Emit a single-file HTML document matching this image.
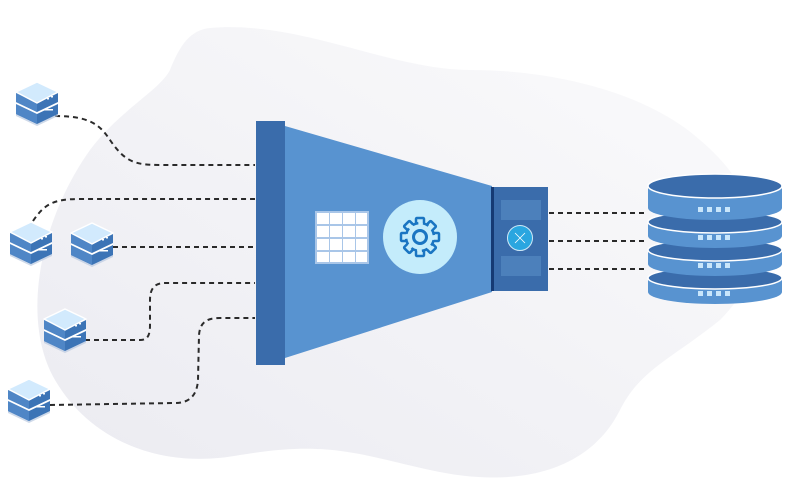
<!DOCTYPE html>
<html><head><meta charset="utf-8"><style>html,body{margin:0;padding:0;background:#fff}svg{display:block}</style></head><body>
<svg width="800" height="487" viewBox="0 0 800 487" xmlns="http://www.w3.org/2000/svg">
<defs>
<linearGradient id="bg" x1="0" y1="1" x2="1" y2="0"><stop offset="0" stop-color="#ebebf1"/><stop offset="1" stop-color="#fbfbfc"/></linearGradient>
<g id="srv">
<polygon points="0,29 21,39 42,29 42,34 21,44 0,34" fill="#b9c9e0" opacity="0.7"/>
<polygon points="0,21 21,31 42,21 42,32 21,42 0,32" fill="#3c74b6"/>
<polygon points="0,21 21,31 21,42 0,32" fill="#4f86c6"/>
<polygon points="0,11 21,21 42,11 42,22 21,32 0,22" fill="#fff"/>
<polygon points="0,11 21,21 42,11 42,20 21,30 0,20" fill="#3c74b6"/>
<polygon points="0,11 21,21 21,30 0,20" fill="#4f86c6"/>
<polygon points="21,0 42,10 21,21 0,10" fill="#d2eafd" stroke="#fff" stroke-width="1.5" stroke-linejoin="round"/>
<rect x="31" y="16" width="2" height="1.5" fill="#fff"/><rect x="35" y="14" width="2" height="1.5" fill="#fff"/>
<rect x="28" y="27" width="9" height="1.5" fill="#fff"/>
</g>
</defs>
<path d="M210,28 C300,20 390,70 470,70 C560,70 650,95 700,140 C760,190 780,260 720,320 C670,360 640,370 620,410 C590,470 520,490 430,470 C360,455 330,440 240,455 C160,470 90,440 55,380 C20,320 40,220 90,150 C120,110 160,90 170,70 C180,45 190,30 210,28 Z" fill="url(#bg)"/>
<g fill="none" stroke="#2a2a2a" stroke-width="2" stroke-dasharray="5,4">
<path d="M55,116 C90,116 100,125 110,140 C125,162 135,165 160,165 L255,165"/>
<path d="M33,221 C45,203 55,199 80,199 L255,199"/>
<path d="M113,247 L255,247"/>
<path d="M85,340 L140,340 C148,340 150,335 150,325 L150,300 C150,288 155,283 165,283 L255,283"/>
<path d="M50,405 L175,403 C190,403 197,395 198,380 L199,335 C200,322 207,318 220,318 L255,318"/>
<path d="M549,213 L648,213 M549,241 L648,241 M549,269 L648,269"/>
</g>
<use href="#srv" x="16" y="82"/>
<use href="#srv" x="10" y="222"/>
<use href="#srv" x="71" y="223"/>
<use href="#srv" x="44" y="309"/>
<use href="#srv" x="8" y="379"/>
<polygon points="285,126 492,186 492,292 285,358" fill="#5893d0"/>
<rect x="256" y="121" width="29" height="244" fill="#3a6cab"/>
<rect x="491" y="187" width="57" height="104" fill="#3a6cab"/>
<rect x="491" y="187" width="3" height="104" fill="#153a74"/>
<rect x="501" y="200" width="40" height="20" fill="#4c80bb"/>
<rect x="501" y="256" width="40" height="20" fill="#4c80bb"/>
<circle cx="520" cy="238" r="12.5" fill="#2aa6e0" stroke="#cfe9f7" stroke-width="1"/>
<g stroke="#fff" stroke-width="0.8" fill="none"><path d="M515,233 L518,236 M525,233 L522,236 M515,243 L518,240 M525,243 L522,240 M518,236 L522,240 M522,236 L518,240"/></g>
<rect x="315" y="211" width="54" height="53" fill="#a9c6e8"/>
<g fill="#fff">
<rect x="317" y="213" width="12" height="11"/><rect x="330" y="213" width="12" height="11"/><rect x="343" y="213" width="12" height="11"/><rect x="356" y="213" width="11" height="11"/>
<rect x="317" y="226" width="12" height="11"/><rect x="330" y="226" width="12" height="11"/><rect x="343" y="226" width="12" height="11"/><rect x="356" y="226" width="11" height="11"/>
<rect x="317" y="239" width="12" height="11"/><rect x="330" y="239" width="12" height="11"/><rect x="343" y="239" width="12" height="11"/><rect x="356" y="239" width="11" height="11"/>
<rect x="317" y="252" width="12" height="10"/><rect x="330" y="252" width="12" height="10"/><rect x="343" y="252" width="12" height="10"/><rect x="356" y="252" width="11" height="10"/>
</g>
<circle cx="420" cy="237" r="37" fill="#c4ecfb"/>
<g fill="#c4ecfb" stroke="#1a75c2" stroke-width="2.5">
<g transform="translate(420,237)">
<rect x="-4" y="-19" width="8" height="8" rx="1"/>
<rect x="-4" y="-19" width="8" height="8" rx="1" transform="rotate(45)"/>
<rect x="-4" y="-19" width="8" height="8" rx="1" transform="rotate(90)"/>
<rect x="-4" y="-19" width="8" height="8" rx="1" transform="rotate(135)"/>
<rect x="-4" y="-19" width="8" height="8" rx="1" transform="rotate(180)"/>
<rect x="-4" y="-19" width="8" height="8" rx="1" transform="rotate(225)"/>
<rect x="-4" y="-19" width="8" height="8" rx="1" transform="rotate(270)"/>
<rect x="-4" y="-19" width="8" height="8" rx="1" transform="rotate(315)"/>
</g>
</g>
<circle cx="420" cy="237" r="14" fill="#c4ecfb"/>
<path d="M420,223 A14,14 0 1 1 419.99,223" fill="none" stroke="#1a75c2" stroke-width="2.5" stroke-dasharray="6,5" stroke-dashoffset="-3"/>
<circle cx="420" cy="237" r="6.5" fill="none" stroke="#1a75c2" stroke-width="3"/>
<g>
<path d="M648,278 L648,292 A67,12 0 0 0 782,292 L782,278 Z" fill="#5893d0"/>
<ellipse cx="715" cy="278" rx="67" ry="11" fill="#3a6cab" stroke="#fff" stroke-width="1.5"/>
<path d="M648,250 L648,264 A67,12 0 0 0 782,264 L782,250 Z" fill="#5893d0"/>
<ellipse cx="715" cy="250" rx="67" ry="11" fill="#3a6cab" stroke="#fff" stroke-width="1.5"/>
<path d="M648,222 L648,236 A67,12 0 0 0 782,236 L782,222 Z" fill="#5893d0"/>
<ellipse cx="715" cy="222" rx="67" ry="11" fill="#3a6cab" stroke="#fff" stroke-width="1.5"/>
<path d="M648,186 L648,208 A67,12 0 0 0 782,208 L782,186 Z" fill="#5893d0"/>
<ellipse cx="715" cy="186" rx="67" ry="12" fill="#3a6cab" stroke="#fff" stroke-width="1.5"/>
<g fill="#c9e6fb">
<rect x="698" y="207" width="5" height="5"/><rect x="707" y="207" width="5" height="5"/><rect x="716" y="207" width="5" height="5"/><rect x="725" y="207" width="5" height="5"/>
<rect x="698" y="235" width="5" height="5"/><rect x="707" y="235" width="5" height="5"/><rect x="716" y="235" width="5" height="5"/><rect x="725" y="235" width="5" height="5"/>
<rect x="698" y="263" width="5" height="5"/><rect x="707" y="263" width="5" height="5"/><rect x="716" y="263" width="5" height="5"/><rect x="725" y="263" width="5" height="5"/>
<rect x="698" y="291" width="5" height="5"/><rect x="707" y="291" width="5" height="5"/><rect x="716" y="291" width="5" height="5"/><rect x="725" y="291" width="5" height="5"/>
</g>
</g>
</svg>
</body></html>
